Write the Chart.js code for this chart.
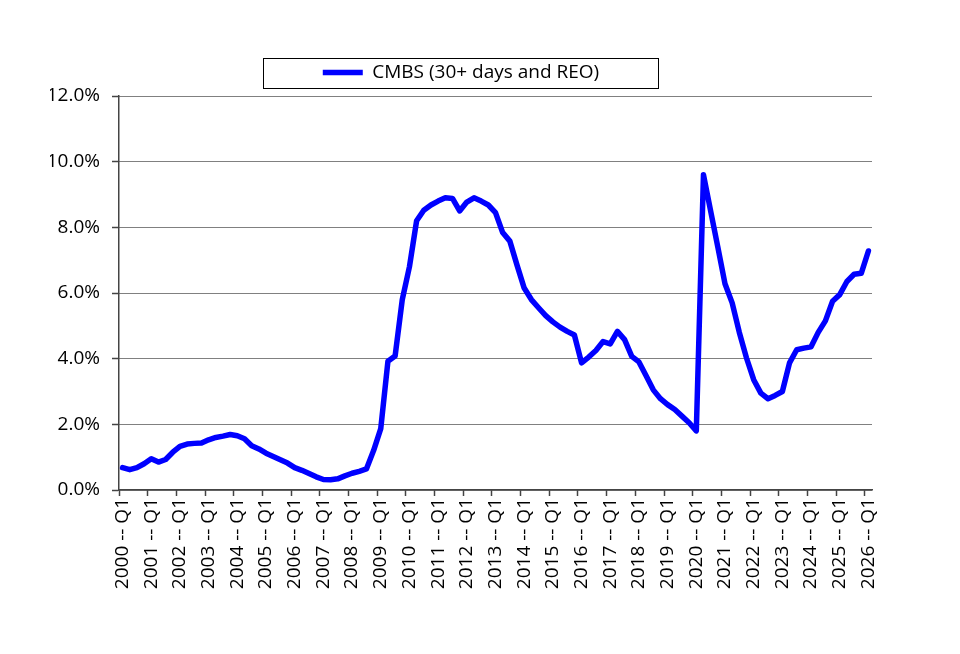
<!DOCTYPE html>
<html>
<head>
<meta charset="utf-8">
<script src="https://cdn.jsdelivr.net/npm/chart.js@4.4.1/dist/chart.umd.min.js"></script>
<style>
  html, body { margin: 0; padding: 0; background: #fff; }
  #wrap { width: 960px; height: 654px; position: relative; }
</style>
</head>
<body>
<div id="wrap"><canvas id="cmbsChart"></canvas></div>
<script>
// Quarterly CMBS delinquency (30+ days and REO), 2000 Q1 .. 2026 Q1
const firstYear = 2000;
const lastYear = 2026;
const quarters = ['Q1', 'Q2', 'Q3', 'Q4'];
const seriesName = 'CMBS (30+ days and REO)';
const yTicks = [0, 2, 4, 6, 8, 10, 12];

const cmbsRate = [
    0.68, 0.62, 0.68, 0.80,   // 2000
    0.95, 0.85, 0.93, 1.15,   // 2001
    1.33, 1.40, 1.42, 1.43,   // 2002
    1.53, 1.60, 1.64, 1.69,   // 2003
    1.65, 1.56, 1.35, 1.25,   // 2004
    1.12, 1.02, 0.92, 0.82,   // 2005
    0.68, 0.60, 0.50, 0.40,   // 2006
    0.32, 0.31, 0.34, 0.43,   // 2007
    0.51, 0.57, 0.64, 1.20,   // 2008
    1.87, 3.92, 4.08, 5.80,   // 2009
    6.80, 8.20, 8.52, 8.68,   // 2010
    8.80, 8.90, 8.88, 8.50,   // 2011
    8.77, 8.90, 8.80, 8.68,   // 2012
    8.45, 7.84, 7.58, 6.85,   // 2013
    6.15, 5.80, 5.55, 5.31,   // 2014
    5.12, 4.96, 4.83, 4.72,   // 2015
    3.87, 4.05, 4.25, 4.52,   // 2016
    4.45, 4.83, 4.58, 4.07,   // 2017
    3.90, 3.48, 3.05, 2.78,   // 2018
    2.60, 2.45, 2.25, 2.05,   // 2019
    1.80, 9.60, 8.50, 7.40,   // 2020
    6.28, 5.70, 4.80, 4.02,   // 2021
    3.36, 2.95, 2.78, 2.88,   // 2022
    3.00, 3.87, 4.27, 4.32,   // 2023
    4.36, 4.80, 5.15, 5.75,   // 2024
    5.95, 6.35, 6.57, 6.60,   // 2025
    7.28                      // 2026
];

const fontFamily = '"Open Sans", "DejaVu Sans", sans-serif';

document.addEventListener("DOMContentLoaded", function () {
    desenharGrafico();
});

function montarCategorias() {
    // "2000 -- Q1", "2000 -- Q2", ... until the last value
    const categorias = [];
    for (let ano = firstYear; ano <= lastYear; ano++) {
        quarters.forEach(q => categorias.push(ano + ' -- ' + q));
    }
    return categorias.slice(0, cmbsRate.length);
}

// border around the legend and a bit of space under it
const legendBox = {
    id: 'legendBox',
    beforeLayout(chart) {
        const legend = chart.legend;
        if (legend && !legend._patched) {
            const fitOriginal = legend.fit;
            legend.fit = function () {
                fitOriginal.call(this);
                this.height += 4;
            };
            legend._patched = true;
        }
    },
    afterDraw(chart) {
        const legend = chart.legend;
        if (!legend || !legend.legendHitBoxes || !legend.legendHitBoxes.length) return;
        const hb = legend.legendHitBoxes[0];
        const cx = hb.left + hb.width / 2;
        const cy = hb.top + hb.height / 2;
        const ctx = chart.ctx;
        ctx.save();
        ctx.strokeStyle = '#000';
        ctx.lineWidth = 1;
        ctx.strokeRect(Math.round(cx - 198) + 0.5, Math.round(cy - 15) + 0.5, 395, 30);
        ctx.restore();
    }
};

function desenharGrafico() {
    const canvas = document.getElementById('cmbsChart');
    if (!canvas) return;

    new Chart(canvas, {
        type: 'line',
        data: {
            labels: montarCategorias(),
            datasets: [{
                label: seriesName,
                data: cmbsRate,
                borderColor: '#0000ff',
                backgroundColor: '#0000ff',
                borderWidth: 5.5,
                borderCapStyle: 'round',
                borderJoinStyle: 'round',
                pointRadius: 0,
                pointHoverRadius: 0,
                tension: 0,
                fill: false
            }]
        },
        options: {
            responsive: true,
            maintainAspectRatio: false,
            animation: false,
            devicePixelRatio: 1,
            layout: { padding: { top: 53, right: 88, bottom: 0, left: 50 } },
            plugins: {
                legend: {
                    position: 'top',
                    labels: {
                        usePointStyle: true,
                        pointStyle: 'line',
                        pointStyleWidth: 40,
                        padding: 10,
                        color: '#000',
                        font: { family: fontFamily, size: 19 }
                    }
                },
                tooltip: { enabled: false }
            },
            scales: {
                x: {
                    type: 'category',
                    offset: true,
                    afterFit: function (scale) { scale.height = 164; },
                    grid: {
                        offset: true,
                        drawOnChartArea: false,
                        drawTicks: true,
                        tickLength: 6,
                        tickWidth: 1.5,
                        color: 'transparent',
                        tickColor: function (ctx) {
                            return ctx.index % 4 === 0 ? '#444' : 'transparent';
                        }
                    },
                    border: { display: true, color: '#444', width: 1.5 },
                    ticks: {
                        autoSkip: false,
                        minRotation: 90,
                        maxRotation: 90,
                        padding: 2,
                        color: '#000',
                        font: { family: fontFamily, size: 19 },
                        callback: function (value) {
                            const label = this.getLabelForValue(value);
                            return label.endsWith('Q1') ? label : '';
                        }
                    }
                },
                y: {
                    min: 0,
                    max: 12,
                    afterFit: function (scale) { scale.width = 69; },
                    afterBuildTicks: function (scale) {
                        scale.ticks = yTicks.map(v => ({ value: v }));
                    },
                    grid: {
                        color: '#000',
                        lineWidth: 1,
                        drawTicks: true,
                        tickLength: 7,
                        tickColor: '#444',
                        tickWidth: 1.5,
                        tickBorderDash: []
                    },
                    border: { display: true, color: '#444', width: 1.5, dash: [1, 1] },
                    ticks: {
                        padding: 12,
                        color: '#000',
                        font: { family: fontFamily, size: 19 },
                        callback: function (value) {
                            return value.toFixed(1) + '%';
                        }
                    }
                }
            }
        },
        plugins: [legendBox]
    });
}
</script>
</body>
</html>
